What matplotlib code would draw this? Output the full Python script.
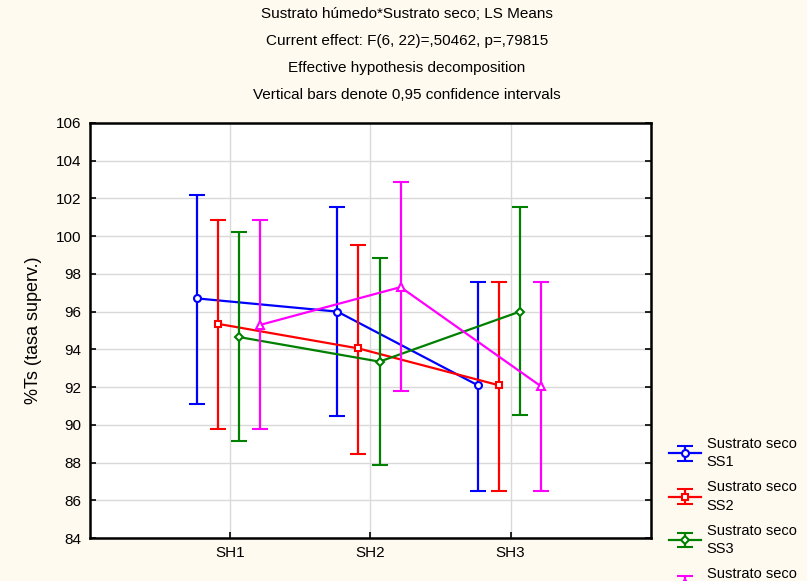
import numpy as np
import matplotlib
matplotlib.use('Agg')
import matplotlib.pyplot as plt

plt.rcParams['font.family'] = ['Liberation Sans', 'DejaVu Sans']
plt.rcParams['font.size'] = 11

groups = ['SH1', 'SH2', 'SH3']
series = ['Sustrato seco\nSS1', 'Sustrato seco\nSS2', 'Sustrato seco\nSS3', 'Sustrato seco\nSS4']

# LS means and 0.95 confidence limits
ss1_mean = [96.7, 96.0, 92.1]
ss1_low = [91.1, 90.45, 86.5]
ss1_high = [102.2, 101.55, 97.55]

ss2_mean = [95.35, 94.05, 92.1]
ss2_low = [89.8, 88.45, 86.5]
ss2_high = [100.85, 99.55, 97.55]

ss3_mean = [94.65, 93.35, 96.0]
ss3_low = [89.15, 87.85, 90.5]
ss3_high = [100.2, 98.85, 101.55]

ss4_mean = [95.3, 97.3, 92.05]
ss4_low = [89.8, 91.8, 86.5]
ss4_high = [100.85, 102.85, 97.55]

means = [ss1_mean, ss2_mean, ss3_mean, ss4_mean]
lows = [ss1_low, ss2_low, ss3_low, ss4_low]
highs = [ss1_high, ss2_high, ss3_high, ss4_high]

colors = ['#0000ff', '#ff0000', '#008000', '#ff00ff']
markers = ['o', 's', 'D', '^']
msizes = [5, 5, 4.5, 5.5]
offsets = [-0.235, -0.085, 0.065, 0.215]

fig = plt.figure(figsize=(8.07, 5.81), dpi=100, facecolor='#fffaf0')
ax = fig.add_axes([0.1115, 0.074, 0.695, 0.7143])
ax.set_facecolor('white')

x = np.arange(1, len(groups) + 1)
handles = []
for i in range(4):
    m = np.array(means[i])
    lo = m - np.array(lows[i])
    hi = np.array(highs[i]) - m
    h = ax.errorbar(x + offsets[i], m, yerr=[lo, hi], color=colors[i], lw=1.6,
                    marker=markers[i], ms=msizes[i], mfc='white', mec=colors[i], mew=1.5,
                    capsize=5.5, capthick=1.6, elinewidth=1.6, zorder=3 + i)
    handles.append(h)

ax.set_xlim(0, 4)
ax.set_ylim(84, 106)
ax.set_xticks(x)
ax.set_xticklabels(groups)
ax.set_yticks(np.arange(84, 107, 2))
ax.grid(True, color='#d9d9d9', lw=1)
ax.set_axisbelow(True)
ax.tick_params(direction='in', length=4, width=1.2, right=True, labelsize=11, pad=6)
for s in ax.spines.values():
    s.set_linewidth(1.8)
ax.set_ylabel('%Ts (tasa superv.)', fontsize=13, labelpad=10)

titles = ['Sustrato húmedo*Sustrato seco; LS Means',
          'Current effect: F(6, 22)=,50462, p=,79815',
          'Effective hypothesis decomposition',
          'Vertical bars denote 0,95 confidence intervals']
for k, t in enumerate(titles):
    fig.text(0.504, 1 - (14 + 27 * k) / 581, t, ha='center', va='center', fontsize=11)

leg = fig.legend(handles, series, loc='upper left', bbox_to_anchor=(663 / 807, 1 - 431 / 581),
                 frameon=False, fontsize=10.5, handlelength=2.2, handletextpad=0.4,
                 labelspacing=0.75, borderaxespad=0)
for t in leg.get_texts():
    t.set_linespacing(1.4)

fig.savefig('out.png', dpi=100, facecolor=fig.get_facecolor())
